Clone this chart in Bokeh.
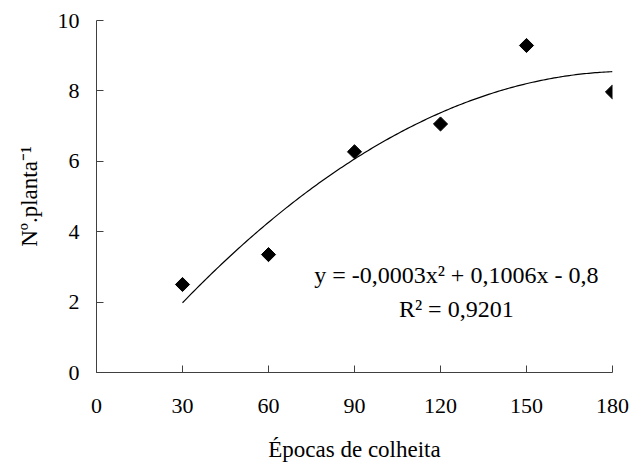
import numpy as np
from math import pi
from bokeh.plotting import figure
from bokeh.models import Range1d, FixedTicker, Label
from bokeh.embed import file_html
from bokeh.resources import INLINE

# Data
epocas = [30, 60, 90, 120, 150, 180]
plantas = [2.5, 3.35, 6.27, 7.06, 9.29, 7.97]
x_ticks = [0, 30, 60, 90, 120, 150, 180]
y_ticks = [0, 2, 4, 6, 8, 10]
equation = "y = -0,0003x² + 0,1006x - 0,8"
r2_text = "R² = 0,9201"

FONT = "'Liberation Serif', 'Times New Roman', serif"

p = figure(width=632, height=464, output_backend="svg", toolbar_location=None,
           x_range=Range1d(0, 180), y_range=Range1d(0, 10),
           min_border_left=96, min_border_right=20, min_border_top=20,
           min_border_bottom=91)
p.outline_line_color = None
p.grid.grid_line_color = None
p.background_fill_color = "white"
p.border_fill_color = "white"

for ax in (p.xaxis[0], p.yaxis[0]):
    ax.major_tick_in = 7
    ax.major_tick_out = 0
    ax.minor_tick_line_color = None
    ax.axis_line_color = "#404040"
    ax.major_tick_line_color = "#404040"
    ax.major_label_text_font = FONT
    ax.major_label_text_font_size = "22px"
    ax.major_label_text_color = "black"
    ax.axis_label_text_font = FONT
    ax.axis_label_text_font_size = "23px"
    ax.axis_label_text_font_style = "normal"
    ax.axis_label_text_color = "black"

p.xaxis.ticker = FixedTicker(ticks=x_ticks)
p.yaxis.ticker = FixedTicker(ticks=y_ticks)
p.xaxis.major_label_standoff = 26
p.yaxis.major_label_standoff = 17
p.xaxis.axis_label = "Épocas de colheita"
p.yaxis.axis_label = "Nº.planta⁻¹"
p.xaxis.axis_label_standoff = 21
p.yaxis.axis_label_standoff = 13

# Quadratic trend fitted to the points
coef = np.polyfit(epocas, plantas, 2)
xs = np.linspace(min(epocas), max(epocas), 200)
p.line(xs, np.polyval(coef, xs), line_color="black", line_width=1.2)

p.scatter(epocas, plantas, marker="square", size=10, angle=pi / 4,
          fill_color="black", line_color="black")

p.add_layout(Label(x=125.5, y=2.78, text=equation, text_align="center",
                   text_baseline="middle", text_font=FONT,
                   text_font_size="24px", text_color="black"))
p.add_layout(Label(x=125.5, y=1.79, text=r2_text, text_align="center",
                   text_baseline="middle", text_font=FONT,
                   text_font_size="24px", text_color="black"))

open("out.html", "w").write(file_html(p, INLINE))
